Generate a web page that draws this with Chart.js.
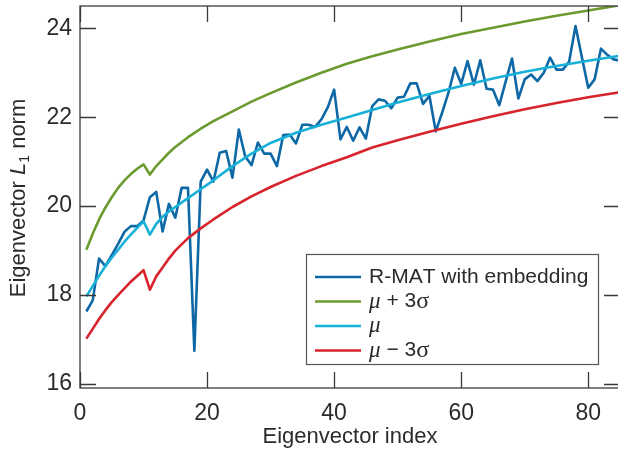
<!DOCTYPE html>
<html>
<head>
<meta charset="utf-8">
<script src="https://cdn.jsdelivr.net/npm/chart.js@4.4.1/dist/chart.umd.min.js"></script>
<style>
  html, body { margin: 0; padding: 0; background: #fff; overflow: hidden; }
  #wrap { width: 618px; height: 453px; overflow: hidden; }
</style>
</head>
<body>
<div id="wrap"><canvas id="chart" width="621" height="453"></canvas></div>
<script>
// ── Data ─────────────────────────────────────────────────────────
const xTicks = [0, 20, 40, 60, 80];
const yTicks = [16, 18, 20, 22, 24];

// L1 norm of each eigenvector, index 1..85
const rmatNorm = [
  17.63, 17.88, 18.82, 18.65, 18.90, 19.15, 19.42, 19.55, 19.55, 19.68,
  20.20, 20.32, 19.43, 20.05, 19.74, 20.41, 20.41, 16.75, 20.55, 20.82,
  20.55, 21.20, 21.24, 20.64, 21.72, 21.12, 20.92, 21.43, 21.18, 21.18,
  20.90, 21.60, 21.61, 21.41, 21.83, 21.83, 21.78, 21.95, 22.22, 22.62,
  21.50, 21.78, 21.47, 21.77, 21.52, 22.25, 22.40, 22.37, 22.20, 22.44,
  22.46, 22.76, 22.76, 22.30, 22.48, 21.68, 22.10, 22.55, 23.11, 22.75,
  23.26, 22.73, 23.28, 22.64, 22.62, 22.27, 22.80, 23.32, 22.42, 22.85,
  22.96, 22.81, 23.00, 23.34, 23.07, 23.07, 23.25, 24.05, 23.35, 22.66,
  22.85, 23.54, 23.40, 23.30, 23.27
];

// expected curves, sampled at these indices
const bandIdx = [1, 2, 3, 4, 5, 6, 7, 8, 9, 10, 11, 12, 13, 14, 15, 17, 19, 21,
                 24, 27, 30, 34, 38, 42, 46, 50, 55, 60, 65, 70, 75, 80, 85];
const muPlus = [19.02, 19.38, 19.70, 19.97, 20.20, 20.41, 20.58, 20.72, 20.84, 20.94,
                20.71, 20.90, 21.05, 21.20, 21.33, 21.55, 21.74, 21.91,
                22.13, 22.35, 22.54, 22.78, 23.00, 23.20, 23.37, 23.52, 23.70, 23.87,
                24.01, 24.15, 24.28, 24.40, 24.52];
const muMean = [17.97, 18.20, 18.43, 18.65, 18.84, 19.02, 19.20, 19.36, 19.51, 19.66,
                19.36, 19.60, 19.76, 19.88, 19.98, 20.18, 20.38, 20.58,
                20.90, 21.18, 21.42, 21.65, 21.83, 21.99, 22.16, 22.33, 22.52, 22.70,
                22.87, 23.02, 23.15, 23.27, 23.38];
const muMinus = [17.02, 17.24, 17.46, 17.66, 17.84, 18.00, 18.15, 18.30, 18.43, 18.56,
                 18.12, 18.42, 18.62, 18.82, 19.00, 19.28, 19.50, 19.70,
                 19.98, 20.22, 20.43, 20.68, 20.90, 21.10, 21.32, 21.48, 21.67, 21.85,
                 22.02, 22.18, 22.32, 22.45, 22.56];

const TEXT = "#2b2b2b";
const AXIS = "#3a3a3a";
const SANS = "'Liberation Sans', Arial, sans-serif";
const SERIF = "'Liberation Serif', 'DejaVu Serif', serif";

const pts = (xs, ys) => ys.map((y, i) => ({ x: xs[i], y }));
const rmatIdx = rmatNorm.map((_, i) => i + 1);

// ── Rich text: μ italic serif, σ serif, rest sans ────────────────
function drawRich(ctx, x, y, text, size) {
    ctx.textBaseline = "middle";
    ctx.textAlign = "left";
    for (const ch of text) {
        if (ch === "μ") ctx.font = `italic ${size + 2}px ${SERIF}`;
        else if (ch === "σ") ctx.font = `${size + 3}px ${SERIF}`;
        else ctx.font = `${size}px ${SANS}`;
        ctx.fillText(ch, x, y);
        x += ctx.measureText(ch).width;
    }
}

// ── Frame, inward ticks, legend box and y title ──────────────────
const decorations = {
    id: "decorations",
    afterDraw(chart) {
        const { ctx, chartArea: a, scales } = chart;
        ctx.save();
        ctx.strokeStyle = AXIS;
        ctx.lineWidth = 1.3;
        ctx.strokeRect(a.left, a.top, a.right - a.left, a.bottom - a.top);

        const TL = 16;
        ctx.beginPath();
        for (const v of xTicks) {
            const px = Math.round(scales.x.getPixelForValue(v)) + 0.5;
            ctx.moveTo(px, a.bottom); ctx.lineTo(px, a.bottom - TL);
            ctx.moveTo(px, a.top);    ctx.lineTo(px, a.top + TL);
        }
        for (const v of yTicks) {
            const py = Math.round(scales.y.getPixelForValue(v)) + 0.5;
            ctx.moveTo(a.left, py);  ctx.lineTo(a.left + TL, py);
            ctx.moveTo(a.right, py); ctx.lineTo(a.right - TL, py);
        }
        ctx.stroke();

        // legend
        const bx = 306.5, by = 254.5, bw = 292, bh = 110;
        ctx.fillStyle = "#fff";
        ctx.fillRect(bx, by, bw, bh);
        ctx.strokeStyle = "#555";
        ctx.lineWidth = 1.2;
        ctx.strokeRect(bx, by, bw, bh);
        chart.data.datasets.forEach((ds, i) => {
            const ry = 277 + i * 24.5;
            ctx.strokeStyle = ds.borderColor;
            ctx.lineWidth = 2.6;
            ctx.beginPath();
            ctx.moveTo(315, ry); ctx.lineTo(361, ry);
            ctx.stroke();
            ctx.fillStyle = TEXT;
            drawRich(ctx, 369, ry, ds.label, 21);
        });

        // y axis title: Eigenvector L1 norm
        ctx.translate(19, 198);
        ctx.rotate(-Math.PI / 2);
        ctx.fillStyle = TEXT;
        ctx.textBaseline = "middle";
        const parts = [
            { t: "Eigenvector ", f: `22px ${SANS}`, dy: 0 },
            { t: "L", f: `italic 22px ${SANS}`, dy: 0 },
            { t: "1", f: `14px ${SANS}`, dy: 6 },
            { t: " norm", f: `22px ${SANS}`, dy: 0 }
        ];
        let w = 0;
        parts.forEach(p => { ctx.font = p.f; p.w = ctx.measureText(p.t).width; w += p.w; });
        let cx = -w / 2;
        parts.forEach(p => {
            ctx.font = p.f;
            ctx.fillText(p.t, cx, p.dy);
            cx += p.w;
        });
        ctx.restore();
    }
};

new Chart(document.getElementById("chart"), {
    type: "line",
    data: {
        datasets: [
            { label: "R-MAT with embedding", data: pts(rmatIdx, rmatNorm),
              borderColor: "#0e68a5", order: 4 },
            { label: "μ + 3σ", data: pts(bandIdx, muPlus),
              borderColor: "#6b9a2e", order: 2 },
            { label: "μ", data: pts(bandIdx, muMean),
              borderColor: "#17b0d6", order: 1 },
            { label: "μ − 3σ", data: pts(bandIdx, muMinus),
              borderColor: "#d7232b", order: 3 }
        ]
    },
    options: {
        responsive: false,
        animation: false,
        devicePixelRatio: 1,
        layout: { padding: { top: 6, right: 1, left: 0, bottom: 0 } },
        elements: {
            point: { radius: 0 },
            line:  { borderWidth: 2.6, tension: 0, borderJoinStyle: "round", fill: false }
        },
        plugins: { legend: { display: false }, tooltip: { enabled: false } },
        scales: {
            x: {
                type: "linear", min: 0, max: 85,
                afterBuildTicks: s => { s.ticks = xTicks.map(v => ({ value: v })); },
                afterFit: s => { s.height = 65; s.paddingLeft = 0; s.paddingRight = 0; },
                grid:   { display: false, drawTicks: false },
                border: { display: false },
                ticks:  { padding: 12, color: TEXT, font: { family: SANS, size: 23 } },
                title:  { display: true, text: "Eigenvector index", color: TEXT,
                          font: { family: SANS, size: 22 }, padding: { top: 0, bottom: 3 } }
            },
            y: {
                type: "linear", min: 15.91, max: 24.5,
                afterBuildTicks: s => { s.ticks = yTicks.map(v => ({ value: v })); },
                afterFit: s => { s.width = 80; s.paddingTop = 0; s.paddingBottom = 0; },
                grid:   { display: false, drawTicks: false },
                border: { display: false },
                ticks:  { padding: 8, color: TEXT, font: { family: SANS, size: 23 } }
            }
        }
    },
    plugins: [decorations]
});
</script>
</body>
</html>
